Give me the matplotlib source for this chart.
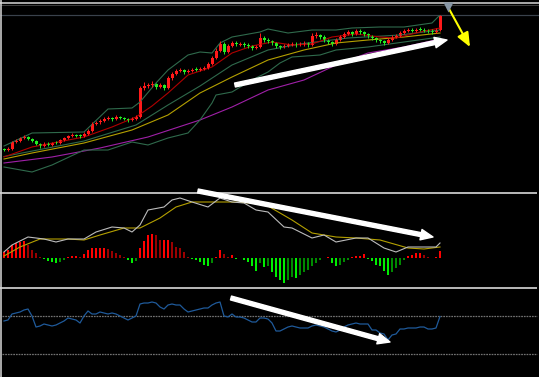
import numpy as np
import matplotlib.pyplot as plt
from matplotlib.lines import Line2D

W, H = 539, 377

# daily candles, price units
opens = [5.1, 5.0, 5.1, 5.8, 5.9, 6.2, 6.3, 6.1, 5.9, 5.6,
         5.4, 5.6, 5.5, 5.8, 5.7, 6.0, 6.2, 6.4, 6.5, 6.5,
         6.4, 6.6, 6.9, 7.6, 7.8, 7.9, 8.1, 8.2, 8.1, 8.3,
         8.2, 8.1, 8.0, 8.1, 8.3, 11.2, 11.4, 11.5, 11.6, 11.3,
         11.5, 11.2, 12.2, 12.6, 12.9, 13.0, 12.8, 12.9, 13.1, 13.0,
         13.1, 13.2, 13.6, 14.2, 14.9, 15.6, 14.8, 15.4, 15.7, 15.5,
         15.6, 15.5, 15.4, 15.2, 15.3, 16.2, 16.0, 15.9, 15.7, 15.4,
         15.3, 15.4, 15.5, 15.6, 15.5, 15.6, 15.7, 15.5, 16.4, 16.5,
         16.3, 16.0, 15.8, 15.6, 16.0, 16.3, 16.6, 16.8, 16.6, 16.9,
         16.8, 16.6, 16.4, 16.2, 16.0, 15.9, 15.7, 16.0, 16.3, 16.4,
         16.7, 16.9, 17.0, 16.9, 17.1, 17.0, 17.0, 16.9, 16.8, 17.0]
closes = [5.0, 5.1, 5.8, 5.9, 6.2, 6.3, 6.1, 5.9, 5.6, 5.4,
          5.6, 5.5, 5.7, 5.7, 6.0, 6.2, 6.4, 6.5, 6.4, 6.4,
          6.6, 6.9, 7.6, 7.7, 7.9, 8.1, 8.2, 8.1, 8.3, 8.2,
          8.1, 8.0, 8.1, 8.3, 11.2, 11.4, 11.5, 11.6, 11.3, 11.5,
          11.2, 12.2, 12.6, 12.9, 13.0, 12.8, 12.9, 13.0, 13.0, 13.1,
          13.2, 13.6, 14.2, 14.9, 15.6, 14.8, 15.4, 15.7, 15.6, 15.6,
          15.5, 15.4, 15.2, 15.3, 16.2, 16.0, 15.9, 15.7, 15.4, 15.3,
          15.4, 15.5, 15.6, 15.5, 15.6, 15.7, 15.5, 16.4, 16.5, 16.3,
          16.0, 15.8, 15.6, 16.0, 16.3, 16.6, 16.8, 16.6, 16.9, 16.8,
          16.6, 16.4, 16.2, 16.0, 15.9, 15.7, 16.0, 16.3, 16.4, 16.7,
          16.9, 17.0, 16.9, 17.0, 17.0, 16.9, 16.9, 16.8, 17.0, 18.4]
highs = [5.2, 5.3, 5.9, 6.1, 6.3, 6.5, 6.4, 6.2, 6.0, 5.7,
         5.8, 5.8, 5.8, 5.9, 6.1, 6.3, 6.5, 6.7, 6.6, 6.6,
         6.8, 7.1, 7.8, 7.9, 8.1, 8.3, 8.4, 8.3, 8.5, 8.4,
         8.3, 8.2, 8.3, 8.5, 11.4, 11.8, 11.7, 11.9, 11.7, 11.7,
         11.6, 12.4, 12.8, 13.1, 13.2, 13.1, 13.1, 13.2, 13.3, 13.3,
         13.4, 13.8, 14.4, 15.2, 15.9, 15.8, 15.6, 15.9, 15.9, 15.8,
         15.8, 15.7, 15.5, 15.5, 16.7, 16.4, 16.2, 16.0, 15.8, 15.5,
         15.6, 15.7, 15.8, 15.8, 15.8, 15.9, 15.8, 16.7, 16.8, 16.6,
         16.5, 16.1, 15.9, 16.2, 16.5, 16.8, 17.0, 16.9, 17.1, 17.1,
         16.9, 16.7, 16.5, 16.3, 16.1, 16.0, 16.2, 16.5, 16.6, 16.9,
         17.1, 17.2, 17.2, 17.2, 17.3, 17.2, 17.1, 17.1, 17.2, 18.5]
lows = [4.9, 4.9, 5.0, 5.7, 5.8, 6.1, 6.0, 5.8, 5.5, 5.2,
        5.3, 5.4, 5.4, 5.6, 5.6, 5.9, 6.1, 6.3, 6.3, 6.2,
        6.3, 6.5, 6.8, 7.5, 7.6, 7.8, 8.0, 7.9, 8.0, 8.1,
        8.0, 7.8, 7.9, 8.0, 8.2, 11.0, 11.2, 11.3, 11.1, 11.2,
        11.0, 11.1, 12.0, 12.5, 12.8, 12.6, 12.7, 12.8, 12.9, 12.9,
        13.0, 13.1, 13.5, 14.1, 14.8, 14.6, 14.7, 15.3, 15.4, 15.4,
        15.3, 15.2, 15.0, 15.1, 15.2, 15.8, 15.7, 15.5, 15.2, 15.1,
        15.2, 15.3, 15.4, 15.3, 15.4, 15.4, 15.3, 15.4, 16.2, 16.1,
        15.8, 15.6, 15.4, 15.5, 15.9, 16.2, 16.5, 16.4, 16.5, 16.6,
        16.4, 16.2, 16.0, 15.8, 15.7, 15.5, 15.6, 15.9, 16.2, 16.3,
        16.6, 16.8, 16.8, 16.8, 16.9, 16.8, 16.7, 16.6, 16.7, 16.9]

# overlay lines read at selected bars
ma_bar = [0, 7, 20, 27, 33, 37, 41, 46, 52, 57, 62, 67, 72, 77, 82, 88, 94, 98, 104, 109]
ma_val = [4.3, 5.3, 6.3, 7.3, 8.3, 9.4, 10.7, 12.5, 13.3, 14.7, 15.4, 15.8, 15.5, 15.6, 16.3, 16.6, 16.3, 16.2, 16.8, 17.2]
mid_bar = [0, 20, 33, 41, 49, 57, 66, 74, 86, 99, 109]
mid_val = [4.35, 5.9, 7.5, 9.5, 11.4, 13.5, 15.0, 15.6, 16.2, 16.5, 17.0]
up_bar = [0, 7, 20, 26, 32, 34, 38, 41, 46, 49, 52, 54, 57, 64, 66, 71, 77, 83, 87, 94, 100, 107, 109]
up_val = [5.4, 6.7, 6.8, 9.1, 9.2, 9.8, 11.7, 13.0, 14.5, 14.8, 14.7, 15.7, 16.3, 16.8, 17.1, 16.7, 17.0, 17.0, 17.2, 17.3, 17.3, 17.7, 18.5]
dn_bar = [0, 7, 12, 20, 26, 32, 36, 41, 46, 49, 52, 53, 57, 62, 66, 69, 72, 79, 83, 91, 100, 109]
dn_val = [3.3, 2.8, 3.5, 5.0, 5.0, 5.8, 5.5, 6.2, 6.7, 8.0, 9.7, 10.5, 10.8, 12.0, 12.8, 13.7, 14.3, 14.5, 15.0, 15.3, 15.8, 16.3]
yl_bar = [0, 7, 20, 32, 41, 49, 57, 66, 75, 83, 91, 100, 109]
yl_val = [4.1, 4.7, 5.7, 7.0, 8.5, 10.7, 12.3, 14.0, 15.0, 15.7, 16.0, 16.3, 16.7]
pu_bar = [0, 12, 24, 36, 49, 57, 66, 75, 83, 91, 100, 109]
pu_val = [3.7, 4.3, 5.2, 6.3, 8.0, 9.3, 11.0, 12.0, 13.5, 14.7, 15.3, 16.1]

# MACD
macd_hist = [0.6, 0.8, 1.3, 1.5, 1.6, 1.7, 1.3, 0.8, 0.5, 0.1,
             -0.1, -0.3, -0.4, -0.5, -0.4, -0.2, 0.1, 0.2, 0.2, 0.1,
             0.4, 0.8, 1.0, 1.0, 1.0, 1.0, 0.9, 0.7, 0.5, 0.3,
             0.1, -0.2, -0.5, -0.3, 1.0, 1.7, 2.3, 2.4, 2.3, 1.8,
             1.8, 1.8, 1.6, 1.1, 1.0, 0.6, 0.1, -0.1, -0.2, -0.4,
             -0.7, -0.8, -0.5, 0.1, 0.8, 0.4, 0.1, 0.3, -0.1, 0.0,
             -0.2, -0.4, -0.8, -1.3, -0.5, -0.9, -0.8, -1.4, -1.9, -2.2,
             -2.5, -2.2, -1.9, -2.0, -1.7, -1.4, -1.2, -0.8, -0.5, -0.2,
             0.05, 0.1, -0.5, -0.8, -0.7, -0.4, -0.2, 0.1, 0.2, 0.2,
             0.4, -0.1, -0.3, -0.7, -0.8, -1.3, -1.7, -1.4, -1.0, -0.7,
             -0.2, 0.2, 0.3, 0.5, 0.5, 0.3, 0.1, 0.05, 0.1, 0.7]
dif_bar = [0, 2, 6, 10, 13, 16, 20, 23, 27, 30, 32, 34, 36, 40, 42, 44, 47, 51, 54, 57, 60, 63, 66, 70, 72, 77, 80, 83, 88, 91, 95, 98, 101, 108, 109]
dif_val = [0.6, 1.3, 2.1, 1.9, 1.6, 1.9, 1.9, 2.6, 3.1, 3.0, 2.6, 3.3, 4.8, 5.1, 5.8, 6.0, 5.6, 5.1, 6.0, 5.6, 5.5, 4.8, 4.6, 3.1, 3.0, 2.0, 2.3, 1.6, 2.0, 2.0, 1.0, 0.6, 1.1, 1.1, 1.5]
dea_bar = [0, 4, 9, 16, 20, 24, 30, 34, 39, 43, 47, 52, 57, 62, 66, 72, 77, 83, 88, 94, 101, 105, 109]
dea_val = [0.2, 1.1, 1.9, 1.9, 1.8, 2.3, 3.0, 3.0, 4.0, 5.1, 5.6, 5.6, 5.6, 5.5, 5.2, 3.8, 2.5, 2.1, 2.0, 1.8, 1.0, 0.9, 1.1]

# RSI
rsi = [46.0, 46.8, 51.6, 52.4, 53.2, 54.8, 55.6, 50.0, 41.2, 42.0,
       43.6, 42.8, 42.0, 42.8, 44.4, 46.0, 48.4, 47.6, 46.8, 44.4,
       50.0, 54.0, 51.6, 51.6, 53.2, 52.4, 51.6, 52.4, 51.6, 50.0,
       48.4, 46.8, 48.4, 50.0, 59.6, 60.4, 60.4, 61.2, 60.4, 57.2,
       55.6, 58.8, 59.6, 58.8, 58.8, 55.6, 53.2, 54.0, 54.8, 55.6,
       56.4, 56.4, 58.8, 60.4, 61.2, 50.0, 49.2, 51.6, 49.2, 49.2,
       48.4, 46.8, 45.2, 45.2, 48.4, 48.4, 47.6, 44.4, 38.0, 38.0,
       39.6, 41.2, 42.0, 41.2, 40.4, 40.4, 40.4, 42.0, 42.8, 42.0,
       41.2, 39.6, 38.0, 37.2, 38.8, 41.2, 42.8, 43.6, 44.4, 43.6,
       43.6, 43.6, 38.8, 38.8, 36.4, 35.6, 30.8, 34.8, 35.6, 39.6,
       39.6, 40.4, 40.4, 40.4, 41.2, 41.2, 39.6, 39.6, 40.4, 49.6]
rsi_levels = [50, 20]

fig = plt.figure(figsize=(W / 100, H / 100), dpi=100, facecolor='black')


def band(top, bottom):
    return [0, 1 - bottom / H, 1, (bottom - top) / H]


def hline(y, x0, x1, color, lw):
    fig.add_artist(Line2D([x0 / W, x1 / W], [1 - y / H, 1 - y / H], transform=fig.transFigure,
                          color=color, lw=lw * 0.72, zorder=-1, solid_capstyle='butt'))


ax1 = fig.add_axes(band(15, 192))
ax2 = fig.add_axes(band(194, 286.5))
ax3 = fig.add_axes(band(289, 377))
for ax in (ax1, ax2, ax3):
    ax.set_axis_off()
    ax.set_xlim(-1, 133.75)
ax1.set_ylim(0.8, 18.5)
ax2.set_ylim(-2.85, 6.4)
ax3.set_ylim(1.2, 71.6)

# frame lines
hline(2.5, 0, W, '#cfcfcf', 1.6)
hline(4.6, 0, W, '#3c3c3c', 1.0)
hline(15, 0, W, '#3a424c', 1.2)
hline(193, 0, 537, '#b4b4b4', 2.0)
hline(287.7, 0, 537, '#b4b4b4', 2.0)
fig.add_artist(Line2D([0.75 / W, 0.75 / W], [0, 1], transform=fig.transFigure,
                      color='#d8d8d8', lw=1.1, zorder=-1))

arrow_white = dict(arrowstyle='simple,head_width=0.95,head_length=1.1,tail_width=0.36',
                   color='white', mutation_scale=8, shrinkA=0, shrinkB=0, clip_on=False)

# price panel
idx = np.arange(len(closes))
o, c = np.array(opens), np.array(closes)
col = np.where(c >= o, '#ff1a1a', '#22ee22')
ax1.plot(pu_bar, pu_val, color='#a020a8', lw=0.8)
ax1.plot(dn_bar, dn_val, color='#2f6a4c', lw=0.8)
ax1.plot(up_bar, up_val, color='#2f6a4c', lw=0.8)
ax1.plot(mid_bar, mid_val, color='#2f6a4c', lw=0.8)
ax1.plot(yl_bar, yl_val, color='#b4a000', lw=0.8)
ax1.plot(ma_bar, ma_val, color='#b00000', lw=0.8)
ax1.vlines(idx, lows, highs, colors=col, lw=0.7)
ax1.bar(idx, np.maximum(np.abs(c - o), 0.1), bottom=np.minimum(o, c), width=0.75,
        color=col, linewidth=0)

ax1.annotate('', xy=(110.75, 16.0), xytext=(57.75, 11.5), annotation_clip=False,
             arrowprops=arrow_white)
ax1.annotate('', xy=(116.5, 15.3), xytext=(111, 19.3), annotation_clip=False,
             arrowprops=dict(arrowstyle='-|>,head_width=0.36,head_length=0.85',
                             color='#ffff00', lw=1.5, mutation_scale=10, shrinkA=0, shrinkB=0))
ax1.plot([111], [19.35], marker='v', ms=7, color='#8796a5', mec='none', clip_on=False, zorder=5)

# MACD panel
hist = np.array(macd_hist)
prev = np.concatenate([[0], hist[:-1]])
hcol = np.where(hist >= 0, np.where(hist >= prev, '#ff0000', '#9a0000'),
                np.where(hist <= prev, '#00ee00', '#008a00'))
ax2.bar(idx, hist, width=0.45, color=hcol, linewidth=0)
ax2.plot(dea_bar, dea_val, color='#b4a000', lw=0.8)
ax2.plot(dif_bar, dif_val, color='#bcbcbc', lw=0.8)
ax2.annotate('', xy=(107.25, 2.1), xytext=(48.5, 6.7), annotation_clip=False,
             arrowprops=arrow_white)

# RSI panel
for lvl in rsi_levels:
    ax3.axhline(lvl, xmin=2 / W, xmax=537 / W, color='#727272', lw=0.9, ls=(0, (1.4, 0.75)))
ax3.plot(idx, rsi, color='#1f5a9a', lw=0.9)
ax3.annotate('', xy=(96.5, 29.2), xytext=(56.75, 64.4), annotation_clip=False,
             arrowprops=arrow_white)

fig.savefig('out.png', dpi=100, facecolor='black')
